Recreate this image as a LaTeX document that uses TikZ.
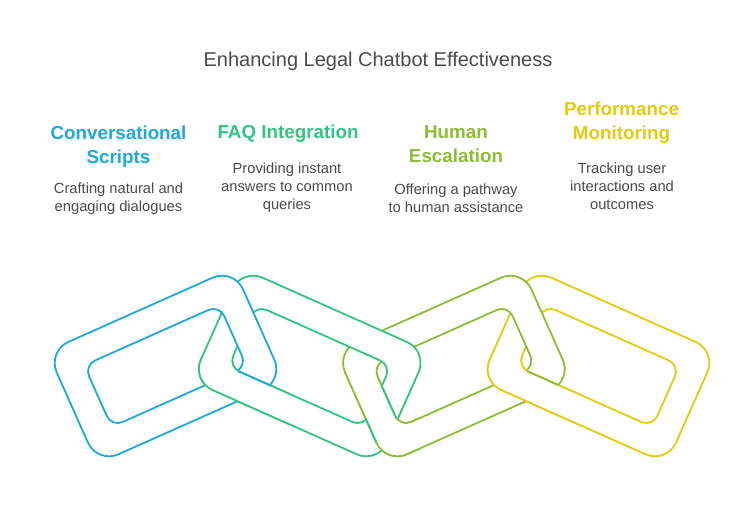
\documentclass[tikz,border=0pt]{standalone}
\usepackage{fontspec}
\setmainfont{Liberation Sans}
\definecolor{ringblue}{HTML}{1EA8DC}
\definecolor{ringgreen}{HTML}{33C481}
\definecolor{ringolive}{HTML}{8FBC35}
\definecolor{ringyellow}{HTML}{E2CB10}
\definecolor{bodygray}{HTML}{4A4A4A}
\tikzset{
	headline/.style={align=center, font=\fontsize{18.8}{24}\selectfont\bfseries},
	bodytext/.style={align=center, text=bodygray, font=\fontsize{14.7}{18}\selectfont},
	ringline/.style={line width=1.8pt, fill=white, even odd rule}
}
% One chain ring: centre x, angle, colour
\newcommand{\chainring}[3]{
	\path[ringline, draw=#3, shift={(#1,162)}, rotate=#2]
		[rounded corners=23pt] (-102,-61.5) rectangle (102,61.5)
		[rounded corners=12pt] (-74,-33.7) rectangle (74,33.7);
}
% Seam on a ring, coloured after its neighbour: centre x, angle, colour, ends
\newcommand{\ringseam}[5]{
	\draw[line width=1.8pt, #3, shift={(#1,162)}, rotate=#2] (#4) -- (#5);
}
\begin{document}
\begin{tikzpicture}[x=1pt, y=1pt]
	\useasboundingbox (0,0) rectangle (756,528);
	
	% Draw the rings, right to left
	\chainring{598.5}{-24}{ringyellow}
	\chainring{453.9}{24}{ringolive}
	\chainring{309.7}{-24}{ringgreen}
	\chainring{165.5}{24}{ringblue}
	
	% Bring each ring back over its left neighbour at the lower crossing
	\begin{scope}
		\clip (190,90) rectangle (290,170);
		\chainring{309.7}{-24}{ringgreen}
	\end{scope}
	\begin{scope}
		\clip (330,60) rectangle (420,155);
		\chainring{453.9}{24}{ringolive}
	\end{scope}
	\begin{scope}
		\clip (480,90) rectangle (580,170);
		\chainring{598.5}{-24}{ringyellow}
	\end{scope}
	
	% Seams at the crossings
	\ringseam{309.7}{-24}{ringblue}{-63,-33.7}{-28.5,-33.7}
	\ringseam{453.9}{24}{ringgreen}{-74,11.6}{-74,-24.5}
	\ringseam{453.9}{24}{ringgreen}{-102,-12.2}{-102,-38.5}
	\ringseam{598.5}{-24}{ringolive}{-63,-33.7}{-28.5,-33.7}
	
	% Label the rings
	\node[headline, text=ringblue] (scriptshead) at (118.5,381.5) {Conversational\\Scripts};
	\node[headline, text=ringgreen] (faqhead) at (288,394) {FAQ Integration};
	\node[headline, text=ringolive] (humanhead) at (456,384) {Human\\Escalation};
	\node[headline, text=ringyellow] (monitorhead) at (621.5,405) {Performance\\Monitoring};
	
	\node[bodytext] (scriptsbody) at (118.5,329) {Crafting natural and\\engaging dialogues};
	\node[bodytext] (faqbody) at (287,340) {Providing instant\\answers to common\\queries};
	\node[bodytext] (humanbody) at (456,330) {Offering a pathway\\to human assistance};
	\node[bodytext] (monitorbody) at (622,342) {Tracking user\\interactions and\\outcomes};
	
	\node[text=bodygray, font=\fontsize{20}{24}\selectfont] (charttitle) at (378,467) {Enhancing Legal Chatbot Effectiveness};
\end{tikzpicture}
\end{document}
